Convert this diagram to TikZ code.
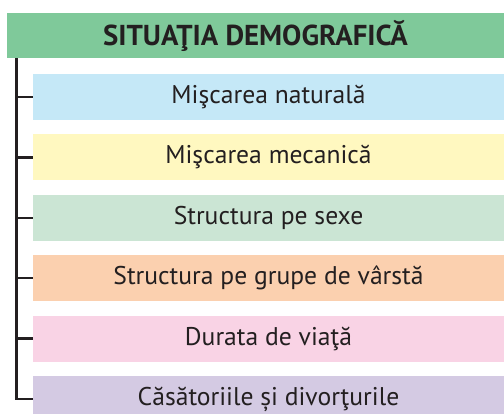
\documentclass[tikz,border=0pt]{standalone}
\usepackage{fontspec}
\setmainfont{PT Sans}
\usetikzlibrary{positioning}

\definecolor{headgreen}{HTML}{7FC99A}
\definecolor{inkdark}{HTML}{231F20}
\definecolor{boxblue}{HTML}{C5E8F7}
\definecolor{boxyellow}{HTML}{FFF8C0}
\definecolor{boxgreen}{HTML}{CBE5D4}
\definecolor{boxpeach}{HTML}{FBD0AF}
\definecolor{boxpink}{HTML}{F9D3E5}
\definecolor{boxlilac}{HTML}{D4CAE3}

\begin{document}
\begin{tikzpicture}[
        node distance=14.4pt,
        every node/.style={font=\fontsize{25.6pt}{29pt}\selectfont, text=inkdark},
        header/.style={
            rectangle,
            fill=headgreen,
            minimum width=497pt,
            minimum height=45pt,
            inner sep=0pt,
            outer sep=0pt,
            font=\fontsize{28.8pt}{32pt}\selectfont\bfseries
        },
        topic/.style={
            rectangle,
            minimum width=471pt,
            minimum height=46pt,
            inner sep=0pt,
            outer sep=0pt
        },
        branch/.style={
            line width=2.4pt,
            draw=inkdark
        }
    ]

    \clip (0pt,0pt) rectangle (504pt,-414pt);

    \node[header, anchor=north west] (head) at (7pt,-13pt)
        {SITUAŢIA DEMOGRAFICĂ};

    \node[topic, fill=boxblue, anchor=north west] (natural) at (33pt,-74pt)
        {Mişcarea naturală};
    \node[topic, fill=boxyellow, below=of natural] (mecanic)
        {Mişcarea mecanică};
    \node[topic, fill=boxgreen, below=of mecanic] (sexe)
        {Structura pe sexe};
    \node[topic, fill=boxpeach, below=of sexe] (varsta)
        {Structura pe grupe de vârstă};
    \node[topic, fill=boxpink, below=of varsta] (durata)
        {Durata de viaţă};
    \node[topic, fill=boxlilac, below=of durata] (casatorii)
        {Căsătoriile și divorţurile};

    \coordinate (trunk) at (16.5pt,-58pt);

    \draw[branch] (trunk) |- (casatorii.west);
    \foreach \b in {natural,mecanic,sexe,varsta,durata}
        \draw[branch] (trunk |- \b.west) -- (\b.west);

\end{tikzpicture}
\end{document}
